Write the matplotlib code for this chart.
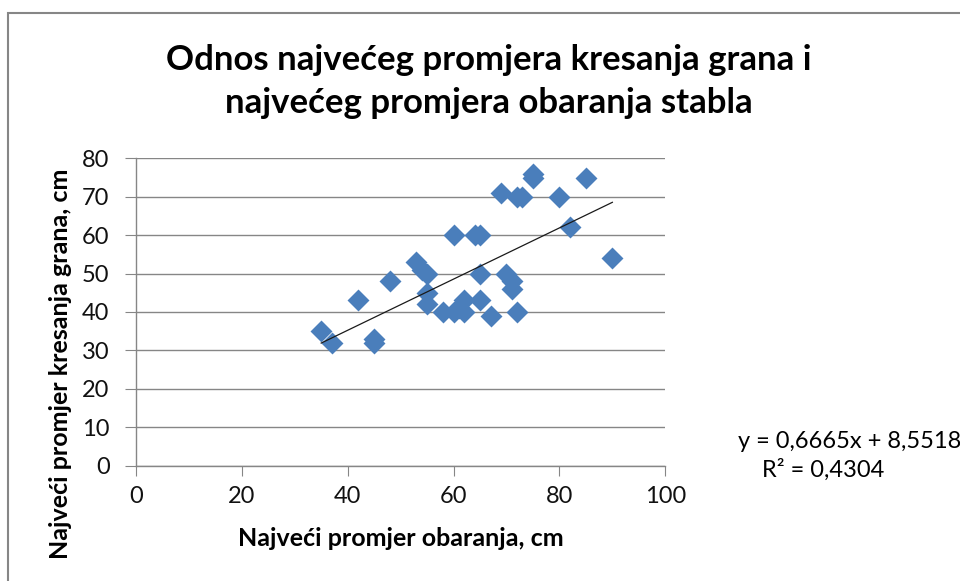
import matplotlib.pyplot as plt
from matplotlib.patches import Rectangle

plt.rcParams['font.family'] = ['Lato', 'DejaVu Sans']

# podaci
obaranje = [35, 37, 42, 45, 45, 48, 53, 54, 55, 55, 55, 58, 60, 61, 62, 62, 60, 64,
            65, 65, 65, 67, 69, 70, 71, 71, 72, 72, 73, 75, 75, 80, 82, 85, 90]
kresanje = [35, 32, 43, 33, 32, 48, 53, 51, 50, 45, 42, 40, 40, 41, 43, 40, 60, 60,
            60, 50, 43, 39, 71, 50, 48, 46, 40, 70, 70, 76, 75, 70, 62, 75, 54]
nagib = 0.6665
odsjecak = 8.5518
x_ticks = [0, 20, 40, 60, 80, 100]
y_ticks = [0, 10, 20, 30, 40, 50, 60, 70, 80]

siva = '#868686'
fig = plt.figure(figsize=(9.6, 5.81), dpi=100)

# okvir grafikona
fig.patches.append(Rectangle((8 / 960, -0.1), 1.2, 1 - 13 / 581 + 0.1,
                             transform=fig.transFigure, fill=False,
                             edgecolor=siva, linewidth=1.5))

ax = fig.add_axes([135.9 / 960, 1 - 465.5 / 581, (665.3 - 135.9) / 960, (465.5 - 158.3) / 581])

ax.scatter(obaranje, kresanje, marker='D', s=125, c='#4A7EBB', linewidths=0, zorder=3)

tx = [min(obaranje), max(obaranje)]
ax.plot(tx, [nagib * v + odsjecak for v in tx], color='#1a1a1a', linewidth=0.9, zorder=4)

ax.set_xlim(0, 100)
ax.set_ylim(0, 80)
ax.set_xticks(x_ticks)
ax.set_yticks(y_ticks)
ax.yaxis.grid(True, color=siva, linewidth=1)
ax.set_axisbelow(True)
for s in ['top', 'right']:
    ax.spines[s].set_visible(False)
for s in ['left', 'bottom']:
    ax.spines[s].set_color(siva)
    ax.spines[s].set_linewidth(1)
ax.tick_params(axis='both', direction='out', color=siva, labelsize=17, labelcolor='#111111')
ax.tick_params(axis='y', length=8, pad=11)
ax.tick_params(axis='x', length=7, pad=8)

ax.set_xlabel('Najveći promjer obaranja, cm', fontsize=18, fontweight='bold', labelpad=14)
ax.set_ylabel('Najveći promjer kresanja grana, cm', fontsize=18, fontweight='bold', va='center')
ax.yaxis.set_label_coords(-0.143, 0.33)

fig.text(0.509, 1 - 60 / 581, 'Odnos najvećeg promjera kresanja grana i', ha='center', va='center',
         fontsize=25, fontweight='bold')
fig.text(0.509, 1 - 103 / 581, 'najvećeg promjera obaranja stabla', ha='center', va='center',
         fontsize=25, fontweight='bold')

fig.text(738 / 960, 1 - 441 / 581, 'y = 0,6665x + 8,5518', ha='left', va='center', fontsize=17)
fig.text(762 / 960, 1 - 470 / 581, 'R² = 0,4304', ha='left', va='center', fontsize=17)

fig.savefig('out.png', dpi=100)
